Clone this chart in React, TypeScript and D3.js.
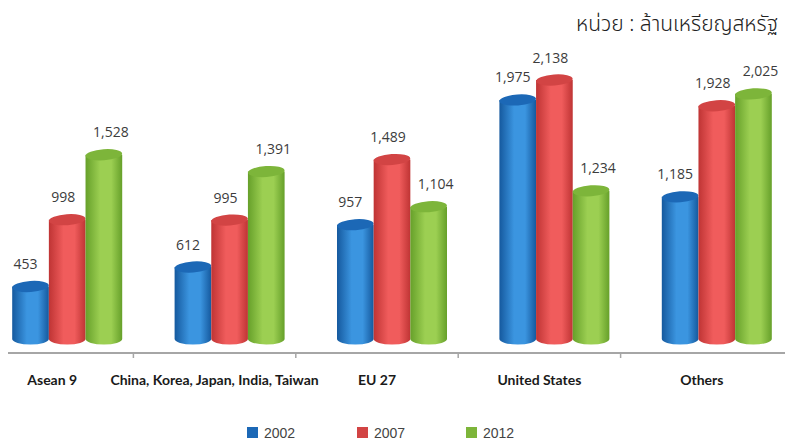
import React, { useEffect, useRef } from 'react'
import * as d3 from 'd3'

// chart data
const categories = ['Asean 9', 'China, Korea, Japan, India, Taiwan', 'EU 27', 'United States', 'Others']
const years = ['2002', '2007', '2012']
const values2002 = [453, 612, 957, 1975, 1185]
const values2007 = [998, 995, 1489, 2138, 1928]
const values2012 = [1528, 1391, 1104, 1234, 2025]
const unitLabel = 'หน่วย : ล้านเหรียญสหรัฐ'

const seriesColors = [
    { dark: '#15599e', light: '#3b95e0', top: '#1c68b6' },
    { dark: '#bf3434', light: '#f05c5c', top: '#d24444' },
    { dark: '#66a02a', light: '#9ccf52', top: '#7db53a' },
]
const labelShift = [-5, -4, 7]

const App = () => {
    const ref = useRef<SVGSVGElement>(null)

    useEffect(() => {
        draw()
    })

    const draw = () => {
        const width = 785
        const height = 441
        const svg = d3.select(ref.current)
        svg.selectAll('*').remove()
        svg.attr('width', width).attr('height', height)

        const series = [values2002, values2007, values2012]

        // gradients for the cylinders
        const defs = svg.append('defs')
        seriesColors.forEach((c, i) => {
            const g = defs.append('linearGradient').attr('id', `body${i}`).attr('x1', '0%').attr('x2', '100%')
            g.append('stop').attr('offset', '0%').attr('stop-color', c.dark)
            g.append('stop').attr('offset', '40%').attr('stop-color', c.light)
            g.append('stop').attr('offset', '70%').attr('stop-color', c.light)
            g.append('stop').attr('offset', '100%').attr('stop-color', c.dark)
        })

        // scales
        const x0 = d3.scaleBand().domain(categories).range([-29, 783]).paddingInner(0)
        const bw = x0.bandwidth()
        const x1 = d3.scaleBand().domain(years).range([-55, 55]).padding(0)
        const y = d3.scaleLinear().domain([0, 2138]).range([342, 80])

        const axisY = 353
        const ry = 5.5

        // axis line + ticks
        svg.append('line')
            .attr('x1', 8).attr('x2', 785)
            .attr('y1', axisY).attr('y2', axisY)
            .attr('stroke', '#a6a6a6').attr('stroke-width', 2)
        svg.selectAll('.tick')
            .data(categories.slice(1))
            .enter()
            .append('line')
            .attr('x1', (d) => (x0(d) || 0)).attr('x2', (d) => (x0(d) || 0))
            .attr('y1', axisY).attr('y2', axisY + 5)
            .attr('stroke', '#a6a6a6').attr('stroke-width', 1.5)

        // cylinders
        categories.forEach((cat, ci) => {
            const cx = (x0(cat) || 0) + bw / 2 + 15
            years.forEach((yr, si) => {
                const v = series[si][ci]
                const left = cx + (x1(yr) || 0)
                const w = x1.bandwidth()
                const rx = w / 2
                const yTop = y(v)
                const yBot = y(0) - 3
                const g = svg.append('g')
                g.append('path')
                    .attr('d', `M${left},${yTop} L${left},${yBot} A${rx},${ry} 0 0 0 ${left + w},${yBot} L${left + w},${yTop} Z`)
                    .attr('fill', `url(#body${si})`)
                g.append('ellipse')
                    .attr('cx', left + rx).attr('cy', yTop)
                    .attr('rx', rx).attr('ry', ry)
                    .attr('fill', seriesColors[si].top)
                    .attr('transform', `rotate(-4,${left + rx},${yTop})`)
                g.append('text')
                    .attr('x', left + rx + labelShift[si])
                    .attr('y', yTop - ry - 12)
                    .attr('text-anchor', 'middle')
                    .attr('font-family', 'Open Sans, Liberation Sans, sans-serif')
                    .attr('font-size', 14)
                    .attr('fill', '#3c3c3c')
                    .text(d3.format(',')(v))
            })
        })

        // category labels
        svg.selectAll('.cat')
            .data(categories)
            .enter()
            .append('text')
            .attr('x', (d) => (x0(d) || 0) + bw / 2)
            .attr('y', 385)
            .attr('text-anchor', 'middle')
            .attr('font-family', 'Lato, sans-serif')
            .attr('font-weight', 'bold')
            .attr('font-size', 14)
            .attr('fill', '#1a1a1a')
            .text((d) => d)

        // legend
        const legendX = [247, 357, 466]
        years.forEach((yr, i) => {
            svg.append('rect')
                .attr('x', legendX[i]).attr('y', 427)
                .attr('width', 11).attr('height', 11)
                .attr('fill', seriesColors[i].top)
            svg.append('text')
                .attr('x', legendX[i] + 17).attr('y', 438)
                .attr('font-family', 'Liberation Sans, Arial, sans-serif')
                .attr('font-size', 14)
                .attr('fill', '#444')
                .text(yr)
        })

        // unit
        svg.append('text')
            .attr('x', 778).attr('y', 31)
            .attr('text-anchor', 'end')
            .attr('font-family', 'Noto Sans Thai, Loma, Garuda, Noto Sans, sans-serif')
            .attr('font-size', 21)
            .attr('font-weight', 300)
            .attr('fill', '#222')
            .text(unitLabel)
    }

    return <svg ref={ref} style={{ position: 'absolute', left: 0, top: 0 }}></svg>
}

export default App
